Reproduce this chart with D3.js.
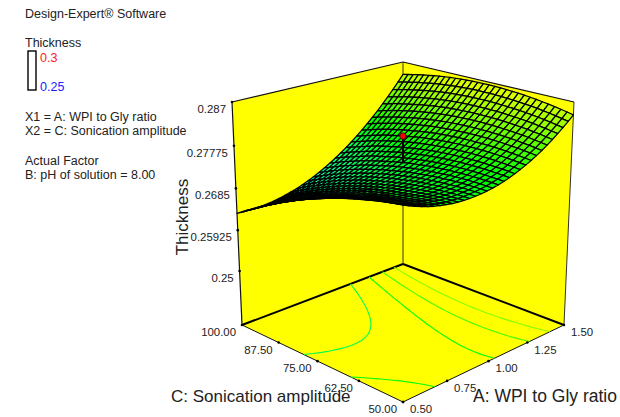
<!DOCTYPE html>
<html>
<head>
<meta charset="utf-8">
<style>
  html, body { margin: 0; padding: 0; background: #fff; }
  svg { display: block; }
  text { font-family: "Liberation Sans", Arial, sans-serif; fill: #222; }
</style>
<script src="https://cdn.jsdelivr.net/npm/d3@7"></script>
</head>
<body>
<div id="chart"></div>
<script>
const ratioTicks = [0.5, 0.75, 1.0, 1.25, 1.5];
const ampTicks = [50, 62.5, 75, 87.5, 100];
const thicknessTicks = [0.25, 0.25925, 0.2685, 0.27775, 0.287];
const contourLevels = [0.271, 0.2748, 0.2781, 0.2814];
const designPoint = { ratio: 1.0, amp: 75, thickness: 0.2798, predicted: 0.2742 };
const infoLines = [
  ['Design-Expert® Software', 18], ['Thickness', 47],
  ['X1 = A: WPI to Gly ratio', 121], ['X2 = C: Sonication amplitude', 135],
  ['Actual Factor', 165], ['B: pH of solution = 8.00', 179]
];

// thickness x 1e5, one row per mesh line of C (50 to 100), one column per mesh line of A (0.5 to 1.5)
const thicknessRows = [
  [27720,27663,27611,27566,27526,27491,27462,27439,27420,27408,27401,27399,27404,27414,27429,27450,27477,27508,27546,27589,27637,27692,27752,27817,27888,27965,28046,28134,28227,28325,28430],
  [27701,27645,27596,27552,27513,27480,27452,27431,27414,27403,27397,27397,27404,27415,27432,27454,27483,27516,27555,27599,27649,27706,27767,27834,27906,27984,28068,28157,28251,28351,28458],
  [27680,27626,27578,27536,27498,27467,27441,27421,27405,27396,27392,27394,27402,27414,27433,27457,27487,27521,27562,27608,27660,27718,27780,27849,27923,28002,28088,28178,28274,28376,28483],
  [27657,27605,27558,27517,27482,27452,27427,27409,27395,27387,27385,27388,27397,27412,27432,27457,27489,27525,27567,27615,27668,27727,27792,27862,27937,28019,28105,28197,28295,28398,28507],
  [27632,27581,27536,27497,27463,27435,27412,27394,27382,27376,27375,27380,27391,27407,27429,27456,27489,27526,27570,27619,27674,27735,27801,27873,27950,28033,28121,28215,28313,28418,28529],
  [27606,27556,27512,27475,27442,27416,27394,27378,27368,27363,27364,27370,27383,27400,27424,27452,27487,27526,27572,27622,27679,27741,27808,27882,27960,28045,28134,28230,28330,28437,28549],
  [27577,27529,27487,27451,27420,27395,27375,27361,27352,27349,27351,27359,27373,27392,27417,27447,27483,27524,27571,27623,27681,27745,27814,27889,27969,28055,28146,28243,28345,28453,28567],
  [27546,27500,27459,27425,27395,27372,27353,27341,27334,27332,27336,27345,27361,27381,27408,27439,27477,27520,27568,27622,27681,27747,27817,27894,27975,28063,28156,28254,28358,28467,28583],
  [27513,27469,27430,27397,27369,27347,27330,27319,27313,27313,27318,27330,27347,27369,27397,27430,27469,27513,27563,27618,27680,27747,27819,27897,27980,28069,28163,28263,28368,28479,28597],
  [27479,27436,27398,27367,27340,27320,27305,27295,27291,27293,27299,27312,27331,27354,27384,27419,27459,27505,27557,27613,27676,27745,27818,27898,27983,28073,28169,28271,28377,28490,28609],
  [27442,27401,27365,27335,27310,27291,27277,27270,27267,27270,27278,27292,27313,27338,27369,27406,27448,27495,27548,27606,27671,27741,27816,27897,27983,28076,28173,28276,28384,28498,28619],
  [27404,27363,27329,27301,27278,27261,27248,27242,27241,27246,27256,27271,27293,27320,27353,27390,27434,27483,27538,27598,27663,27735,27812,27895,27983,28076,28175,28280,28390,28505,28627],
  [27363,27324,27292,27265,27243,27228,27217,27212,27213,27219,27230,27248,27271,27299,27334,27373,27419,27469,27525,27587,27654,27727,27806,27890,27979,28075,28175,28281,28393,28510,28633],
  [27321,27284,27252,27227,27207,27193,27184,27181,27183,27191,27204,27223,27247,27277,27313,27354,27401,27453,27511,27574,27643,27717,27797,27883,27974,28071,28173,28281,28394,28513,28637],
  [27276,27241,27211,27188,27169,27157,27149,27148,27151,27160,27175,27195,27222,27253,27291,27333,27381,27435,27494,27559,27629,27706,27787,27875,27967,28065,28169,28278,28393,28513,28640],
  [27230,27196,27168,27146,27129,27118,27112,27112,27117,27128,27144,27166,27194,27227,27266,27310,27360,27415,27476,27542,27614,27692,27775,27864,27958,28058,28163,28274,28390,28512,28640],
  [27182,27149,27123,27102,27087,27077,27073,27075,27081,27094,27111,27135,27164,27199,27239,27285,27337,27393,27456,27523,27597,27676,27761,27851,27947,28049,28155,28268,28385,28509,28638],
  [27131,27101,27076,27057,27043,27035,27032,27035,27043,27057,27076,27102,27133,27169,27211,27258,27311,27369,27433,27502,27578,27659,27745,27837,27934,28037,28145,28259,28378,28504,28635],
  [27079,27050,27027,27009,26997,26991,26989,26994,27004,27019,27040,27067,27099,27137,27181,27229,27284,27344,27409,27480,27557,27639,27727,27821,27919,28024,28134,28249,28370,28497,28629],
  [27025,26997,26976,26960,26949,26944,26944,26951,26962,26979,27001,27030,27064,27103,27148,27198,27255,27316,27383,27455,27533,27618,27707,27802,27902,28009,28120,28237,28359,28487,28622],
  [26969,26943,26923,26908,26899,26896,26898,26906,26918,26937,26961,26991,27026,27067,27114,27166,27223,27286,27355,27429,27509,27594,27685,27782,27884,27991,28104,28223,28347,28477,28612],
  [26911,26886,26867,26855,26847,26845,26849,26858,26872,26893,26918,26949,26987,27029,27077,27131,27190,27254,27325,27400,27481,27569,27661,27759,27863,27972,28086,28207,28332,28463,28601],
  [26851,26828,26811,26800,26793,26793,26798,26809,26825,26847,26874,26907,26946,26989,27039,27094,27155,27221,27293,27370,27453,27542,27635,27735,27840,27951,28067,28189,28316,28449,28588],
  [26789,26767,26752,26742,26738,26739,26746,26758,26775,26799,26827,26862,26902,26948,26999,27055,27118,27185,27259,27337,27422,27512,27608,27709,27815,27928,28045,28169,28297,28432,28572],
  [26725,26705,26691,26683,26680,26683,26691,26705,26724,26749,26779,26815,26857,26904,26957,27015,27079,27148,27223,27303,27389,27481,27578,27681,27789,27903,28022,28147,28277,28413,28555],
  [26659,26640,26628,26622,26620,26625,26634,26650,26670,26697,26728,26766,26809,26858,26913,26972,27038,27108,27185,27266,27354,27447,27546,27651,27760,27876,27996,28123,28254,28392,28535],
  [26591,26574,26563,26558,26558,26565,26576,26593,26615,26643,26676,26715,26760,26810,26867,26928,26995,27067,27145,27228,27317,27412,27512,27618,27730,27847,27969,28097,28230,28369,28514],
  [26521,26506,26497,26493,26495,26503,26515,26534,26558,26587,26622,26663,26709,26761,26819,26881,26950,27024,27103,27188,27279,27375,27477,27585,27697,27816,27940,28069,28204,28345,28491],
  [26449,26436,26428,26426,26429,26438,26452,26473,26498,26529,26565,26608,26656,26709,26768,26833,26903,26978,27059,27146,27238,27336,27439,27548,27663,27783,27908,28039,28176,28318,28466],
  [26376,26363,26357,26357,26362,26373,26389,26410,26437,26470,26508,26552,26602,26656,26717,26782,26854,26931,27014,27102,27196,27295,27400,27511,27627,27749,27876,28008,28146,28290,28440],
  [26300,26289,26285,26286,26292,26305,26322,26345,26374,26408,26447,26493,26544,26600,26663,26730,26803,26882,26966,27055,27151,27252,27358,27471,27588,27711,27840,27974,28113,28259,28410]
];

const width = 620;
const height = 417;
const floorZ = 0.23743;
const topZ = 0.287;
const n = thicknessRows.length - 1;

const uScale = d3.scaleLinear().domain([0.5, 1.5]).range([0, 1]);
const vScale = d3.scaleLinear().domain([50, 100]).range([0, 1]);
const wScale = d3.scaleLinear().domain([floorZ, topZ]).range([0, 1]);
const ratioAt = d3.scaleLinear().domain([0, n]).range([0.5, 1.5]);
const ampAt = d3.scaleLinear().domain([0, n]).range([50, 100]);
const colorScale = d3.scaleLinear()
  .domain([0.25, 0.2625, 0.275, 0.2875, 0.3])
  .range(['#0000ff', '#00ffff', '#00ff00', '#ffff00', '#ff0000']);

// perspective camera fitted to the box corners
const project = (ratio, amp, z) => {
  const u = uScale(ratio), v = vScale(amp), w = wScale(z);
  const s = u - v, t = u + v;
  const d = 1 + 0.1311 * t - 0.0662 * w;
  return [403 + 182.1 * s / d, (402 - 34.4 * t - 259 * w) / d];
};
const polyPath = (pts) => 'M' + pts.map((p) => p.join(',')).join('L') + 'Z';

const svg = d3.select('#chart').append('svg').attr('width', width).attr('height', height);

// walls and floor
const walls = [
  [[0.5, 100, floorZ], [1.5, 100, floorZ], [1.5, 100, topZ], [0.5, 100, topZ]],
  [[1.5, 100, floorZ], [1.5, 50, floorZ], [1.5, 50, topZ], [1.5, 100, topZ]],
  [[0.5, 50, floorZ], [1.5, 50, floorZ], [1.5, 100, floorZ], [0.5, 100, floorZ]]
];
svg.append('g').selectAll('path').data(walls).enter().append('path')
  .attr('d', (d) => polyPath(d.map((p) => project(...p))))
  .attr('fill', '#ffff00');

const edges = [
  [[0.5, 100, floorZ], [0.5, 100, topZ], 1.2, '#111'],
  [[0.5, 100, topZ], [1.5, 100, topZ], 1.2, '#111'],
  [[1.5, 100, topZ], [1.5, 50, topZ], 1.2, '#111'],
  [[1.5, 50, topZ], [1.5, 50, floorZ], 1, '#333'],
  [[1.5, 100, floorZ], [1.5, 100, topZ], 1, '#333'],
  [[0.5, 100, floorZ], [1.5, 100, floorZ], 2, '#000'],
  [[1.5, 100, floorZ], [1.5, 50, floorZ], 2, '#000'],
  [[0.5, 100, floorZ], [0.5, 50, floorZ], 1, '#111'],
  [[0.5, 50, floorZ], [1.5, 50, floorZ], 1, '#111']
];
svg.append('g').selectAll('line').data(edges).enter().append('line')
  .attr('x1', (d) => project(...d[0])[0])
  .attr('y1', (d) => project(...d[0])[1])
  .attr('x2', (d) => project(...d[1])[0])
  .attr('y2', (d) => project(...d[1])[1])
  .attr('stroke-width', (d) => d[2])
  .attr('stroke', (d) => d[3]);

// floor contours
const flat = thicknessRows.flat().map((d) => d / 1e5);
const contours = d3.contours().size([n + 1, n + 1]).thresholds(contourLevels)(flat);
const inGrid = (p) => p[0] >= 0.5 && p[0] <= n + 0.5 && p[1] >= 0.5 && p[1] <= n + 0.5;
const contourLine = d3.line()
  .defined(inGrid)
  .x((p) => project(ratioAt(p[0] - 0.5), ampAt(p[1] - 0.5), floorZ)[0])
  .y((p) => project(ratioAt(p[0] - 0.5), ampAt(p[1] - 0.5), floorZ)[1]);
const contourG = svg.append('g').attr('fill', 'none').attr('stroke-width', 1.1);
contours.forEach((c) => {
  c.coordinates.forEach((poly) => poly.forEach((ring) => {
    contourG.append('path').attr('d', contourLine(ring)).attr('stroke', colorScale(c.value));
  }));
});

// surface mesh, far cells first
const cells = [];
for (let j = 0; j < n; j++) {
  for (let i = 0; i < n; i++) {
    const corners = [[i, j], [i + 1, j], [i + 1, j + 1], [i, j + 1]];
    const vals = corners.map(([ci, cj]) => thicknessRows[cj][ci] / 1e5);
    cells.push({
      depth: i + j,
      value: d3.mean(vals),
      pts: corners.map(([ci, cj], k) => project(ratioAt(ci), ampAt(cj), vals[k]))
    });
  }
}
cells.sort((a, b) => d3.descending(a.depth, b.depth));
svg.append('g').selectAll('path').data(cells).enter().append('path')
  .attr('d', (d) => polyPath(d.pts))
  .attr('fill', (d) => colorScale(d.value))
  .attr('stroke', '#000')
  .attr('stroke-width', 1.25)
  .attr('stroke-linejoin', 'round');

// design point
const ptTop = project(designPoint.ratio, designPoint.amp, designPoint.thickness);
const ptBase = project(designPoint.ratio, designPoint.amp, designPoint.predicted);
svg.append('line')
  .attr('x1', ptTop[0]).attr('y1', ptTop[1])
  .attr('x2', ptBase[0]).attr('y2', ptBase[1])
  .attr('stroke', '#000').attr('stroke-width', 2);
svg.append('circle')
  .attr('cx', ptTop[0]).attr('cy', ptTop[1]).attr('r', 3.2)
  .attr('fill', '#f00000').attr('stroke', '#400').attr('stroke-width', 0.8);

// ticks and tick labels
const tickData = [
  ...ratioTicks.map((d) => ({ pos: [d, 50, floorZ], label: d.toFixed(2), dx: 7, anchor: 'start' })),
  ...ampTicks.map((d) => ({ pos: [0.5, d, floorZ], label: d.toFixed(2), dx: -6, anchor: 'end' })),
  ...thicknessTicks.map((d) => ({ pos: [0.5, 100, d], label: String(d), dx: -6, anchor: 'end' }))
];
const ticks = svg.append('g').selectAll('g').data(tickData).enter().append('g')
  .attr('transform', (d) => `translate(${project(...d.pos)})`);
ticks.append('circle').attr('r', 1.3).attr('fill', '#000');
ticks.append('text')
  .attr('x', (d) => d.dx)
  .attr('y', 11)
  .attr('text-anchor', (d) => d.anchor)
  .attr('font-size', 11.4)
  .text((d) => d.label);

// axis titles
svg.append('text').attr('x', 171).attr('y', 402).attr('font-size', 17).text('C: Sonication amplitude');
svg.append('text').attr('x', 473).attr('y', 402).attr('font-size', 17.5).text('A: WPI to Gly ratio');
svg.append('text')
  .attr('transform', 'translate(188,217) rotate(-90)')
  .attr('text-anchor', 'middle')
  .attr('font-size', 17)
  .text('Thickness');

// side notes and legend
svg.append('g').selectAll('text').data(infoLines).enter().append('text')
  .attr('x', 25)
  .attr('y', (d) => d[1])
  .attr('font-size', 12.5)
  .text((d) => d[0]);
svg.append('rect')
  .attr('x', 28).attr('y', 51).attr('width', 8).attr('height', 39)
  .attr('fill', '#fff').attr('stroke', '#000').attr('stroke-width', 1.4);
svg.append('text').attr('x', 40).attr('y', 62).attr('font-size', 12.5).style('fill', '#ff2020').text('0.3');
svg.append('text').attr('x', 40).attr('y', 91).attr('font-size', 12.5).style('fill', '#2020ff').text('0.25');
</script>
</body>
</html>
